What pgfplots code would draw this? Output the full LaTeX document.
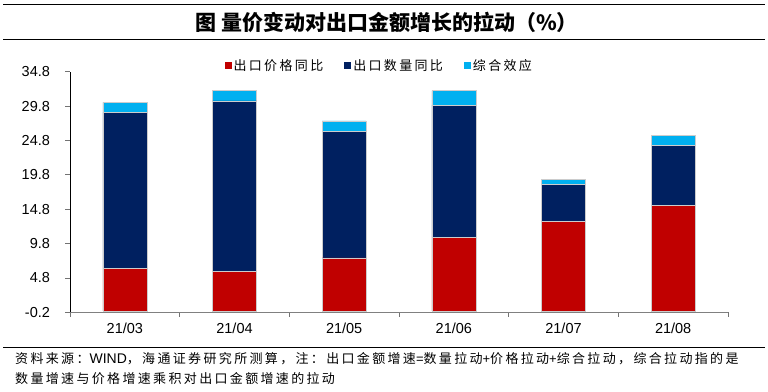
\documentclass[border=0pt]{standalone}
\usepackage{fontspec}
\setmainfont{Liberation Sans}
\newfontfamily\cjk{Noto Sans CJK SC}
\newfontfamily\cjkls{Noto Sans CJK SC}[LetterSpace=18]
\usepackage{pgfplots}
\pgfplotsset{compat=1.18}
\definecolor{cred}{HTML}{C00000}
\definecolor{cnavy}{HTML}{002060}
\definecolor{ccyan}{HTML}{00B0F0}
\begin{document}
\begin{tikzpicture}[x=1pt,y=1pt]
\path[use as bounding box] (0,0) rectangle (768,391);
\draw[line width=1pt] (3,386) -- (765,386);
\draw[line width=1pt] (3,351.7) -- (765,351.7);
\draw[line width=1pt] (3,43.7) -- (765,43.7);
\node[inner sep=0pt, font=\cjk\bfseries\fontsize{21}{21}\selectfont] at (386.5,369) {图 量价变动对出口金额增长的拉动（\%）};
\begin{axis}[
  at={(70pt,78.7pt)}, anchor=south west, scale only axis,
  width=658pt, height=240.6pt,
  ybar stacked, bar width=44pt,
  xmin=0.5, xmax=6.5, ymin=-0.2, ymax=34.8,
  xtick={0.5,1.5,...,6.5}, xticklabels={},
  extra x ticks={1,2,3,4,5,6},
  extra x tick labels={21/03,21/04,21/05,21/06,21/07,21/08},
  extra x tick style={major tick length=0pt},
  ytick={-0.2,4.8,9.8,14.8,19.8,24.8,29.8,34.8},
  scaled y ticks=false,
  /pgf/number format/.cd, fixed, fixed zerofill, precision=1, assume math mode=true,
  /pgfplots/.cd,
  tick align=outside, major tick length=4.5pt,
  tick style={black!55, line width=0.8pt},
  axis x line*=bottom, axis y line*=left,
  x axis line style={black!50, line width=1pt},
  y axis line style={black, line width=0.8pt},
  ticklabel style={font=\fontsize{14.5}{14.5}\selectfont},
  yticklabel style={xshift=-12pt},
  xticklabel style={yshift=-7pt},
  legend style={at={(0.47,1.025)}, anchor=center, draw=none, fill=none,
    legend columns=3, inner sep=0pt,
    font=\cjkls\fontsize{13}{13}\selectfont,
    /tikz/every even column/.append style={column sep=19pt}},
  legend image code/.code={\draw[#1,draw=none] (0pt,-3.5pt) rectangle (7pt,3.5pt);},
]
\addplot[fill=cred, draw=white!80!black, line width=0.4pt] coordinates {(1,6.2) (2,5.75) (3,7.7) (4,10.7) (5,13.05) (6,15.4)};
\addplot[fill=cnavy, draw=white!80!black, line width=0.4pt] coordinates {(1,22.7) (2,24.8) (3,18.45) (4,19.25) (5,5.4) (6,8.7)};
\addplot[fill=ccyan, draw=white!80!black, line width=0.4pt] coordinates {(1,1.45) (2,1.5) (3,1.5) (4,2.1) (5,0.7) (6,1.4)};
\legend{出口价格同比,出口数量同比,综合效应}
\end{axis}
\node[anchor=west, inner sep=0pt, font=\cjkls\fontsize{13}{13}\selectfont] at (15,32.7) {资料来源：{\rmfamily\fontsize{14}{14}\selectfont WIND}，海通证券研究所测算，注：出口金额增速{\rmfamily =}数量拉动{\rmfamily +}价格拉动{\rmfamily +}综合拉动，综合拉动指的是};
\node[anchor=west, inner sep=0pt, font=\cjkls\fontsize{13}{13}\selectfont] at (15,12) {数量增速与价格增速乘积对出口金额增速的拉动};
\end{tikzpicture}
\end{document}
